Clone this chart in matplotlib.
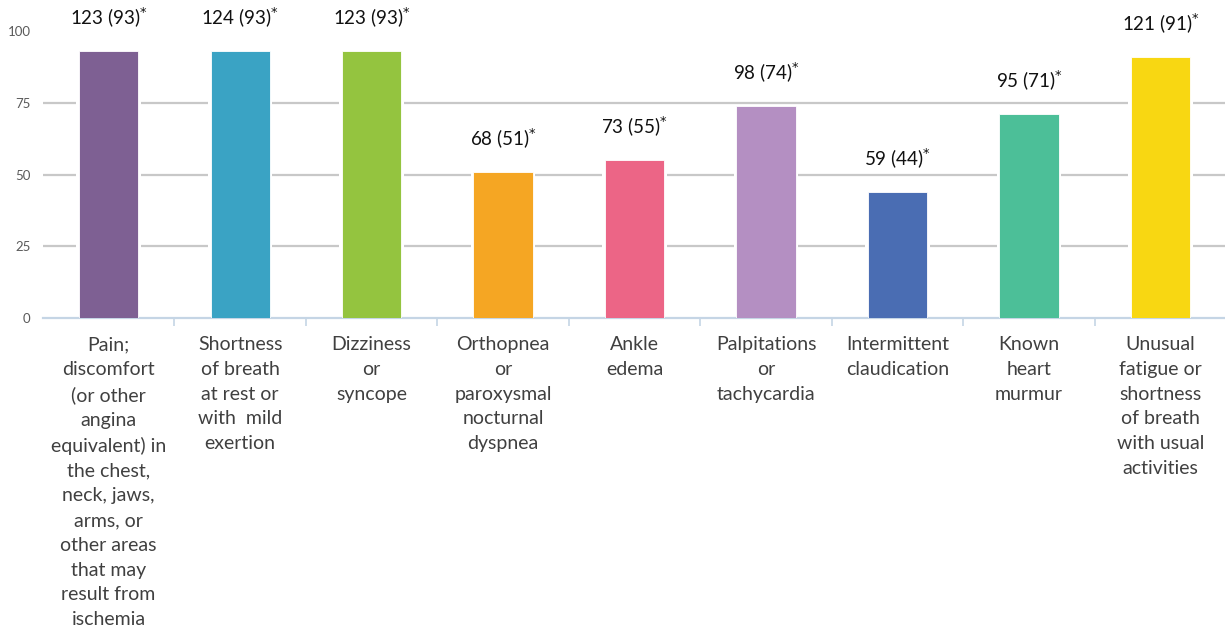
import numpy as np
import matplotlib
matplotlib.use("Agg")
import matplotlib.pyplot as plt

plt.rcParams["font.family"] = ["Lato", "DejaVu Sans"]

symptoms = [
    "Pain;\ndiscomfort\n(or other\nangina\nequivalent) in\nthe chest,\nneck, jaws,\narms, or\nother areas\nthat may\nresult from\nischemia",
    "Shortness\nof breath\nat rest or\nwith  mild\nexertion",
    "Dizziness\nor\nsyncope",
    "Orthopnea\nor\nparoxysmal\nnocturnal\ndyspnea",
    "Ankle\nedema",
    "Palpitations\nor\ntachycardia",
    "Intermittent\nclaudication",
    "Known\nheart\nmurmur",
    "Unusual\nfatigue or\nshortness\nof breath\nwith usual\nactivities",
]
counts = [123, 124, 123, 68, 73, 98, 59, 95, 121]
percents = [93, 93, 93, 51, 55, 74, 44, 71, 91]
colors = ["#7e6093", "#3aa3c4", "#94c43f", "#f5a623", "#ec6586",
          "#b48fc2", "#4a6db3", "#4cbf98", "#f8d712"]

fig = plt.figure(figsize=(12.25, 6.3), dpi=100)
ax = fig.add_axes([0.035, 0.495, 0.966, 0.456])

x = np.arange(len(symptoms))

# white halo so the grid lines stop short of each bar
ax.bar(x, percents, width=0.49, color="white", zorder=2)
ax.bar(x, percents, width=0.45, color=colors, edgecolor="white",
       linewidth=0.6, zorder=3)

for xi, c, p in zip(x, counts, percents):
    ax.annotate(f"{c} ({p})$^{{*}}$", (xi, p), xytext=(0, 15),
                textcoords="offset points", ha="center", va="bottom",
                fontsize=13.5, color="#111111", zorder=4)

ax.set_xlim(-0.5, len(symptoms) - 0.5)
ax.set_ylim(0, 100)
ax.set_yticks([0, 25, 50, 75, 100])
ax.set_yticklabels(["0", "25", "50", "75", "100"])
ax.yaxis.grid(True, color="#c8c8c8", linewidth=1.6, zorder=1)
ax.set_axisbelow(True)
ax.tick_params(axis="y", length=0, pad=9, labelsize=9.5, labelcolor="#5a5a5a")

ax.set_xticks(x)
ax.set_xticklabels(symptoms, fontsize=14, color="#404040", linespacing=1.55,
                   va="top")
ax.tick_params(axis="x", which="major", length=0, pad=13)
ax.set_xticks(np.arange(0.5, len(symptoms) - 0.5), minor=True)
ax.tick_params(axis="x", which="minor", length=6, color="#c5d5e5", width=1.2)

for side in ["top", "right", "left"]:
    ax.spines[side].set_visible(False)
ax.spines["bottom"].set_color("#c5d5e5")
ax.spines["bottom"].set_linewidth(1.6)
# hide the 0 and 100 grid lines
ax.get_ygridlines()[0].set_visible(False)
ax.get_ygridlines()[-1].set_visible(False)

fig.savefig("out.png", dpi=100, facecolor="white")
